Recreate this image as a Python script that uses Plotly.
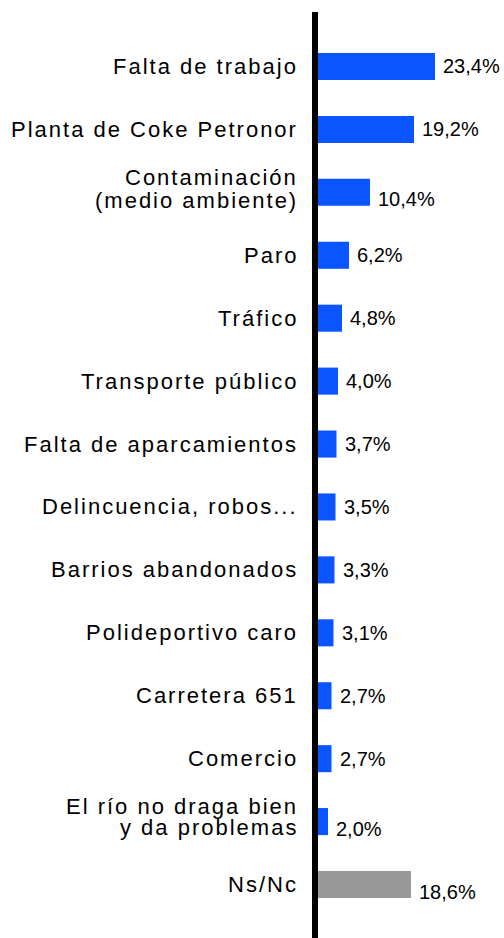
import plotly.graph_objects as go

categories = [
    "Falta de trabajo",
    "Planta de Coke Petronor",
    "Contaminación\n(medio ambiente)",
    "Paro",
    "Tráfico",
    "Transporte público",
    "Falta de aparcamientos",
    "Delincuencia, robos...",
    "Barrios abandonados",
    "Polideportivo caro",
    "Carretera 651",
    "Comercio",
    "El río no draga bien\ny da problemas",
    "Ns/Nc",
]
values = [23.4, 19.2, 10.4, 6.2, 4.8, 4.0, 3.7, 3.5, 3.3, 3.1, 2.7, 2.7, 2.0, 18.6]
value_labels = ["23,4%", "19,2%", "10,4%", "6,2%", "4,8%", "4,0%", "3,7%", "3,5%",
                "3,3%", "3,1%", "2,7%", "2,7%", "2,0%", "18,6%"]

BLUE = "#0A55FF"
GREY = "#999999"
colors = [BLUE] * (len(categories) - 1) + [GREY]
FONT = "Liberation Sans, Arial, sans-serif"

fig = go.Figure(go.Bar(
    x=values, y=categories, orientation="h",
    marker=dict(color=colors, line=dict(width=0)),
    width=0.43, hoverinfo="skip",
))

# category labels (one annotation per text line)
n_cat_ann = 0
for c in categories:
    lines = c.split("\n")
    shifts = [0] if len(lines) == 1 else ([15, -8] if c.startswith("Cont") else [15, -6])
    for ln, ys in zip(lines, shifts):
        fig.add_annotation(x=0, xref="paper", y=c, text=ln, showarrow=False,
                           xanchor="right", align="right", xshift=-18, yshift=ys,
                           font=dict(family=FONT, size=22, color="#000000"))
        n_cat_ann += 1

# value labels
val_yshift = {2: -7, 12: -7, 13: -7}
for i, (v, c, t) in enumerate(zip(values, categories, value_labels)):
    fig.add_annotation(x=v, y=c, text=t, showarrow=False, xanchor="left",
                       xshift=6, yshift=val_yshift.get(i, 0),
                       font=dict(family=FONT, size=20, color="#000000"))

fig.update_layout(
    width=504, height=938,
    margin=dict(l=318, r=0, t=12, b=0),
    paper_bgcolor="white", plot_bgcolor="white",
    showlegend=False,
    xaxis=dict(range=[0, 37.2], visible=False, showgrid=False, zeroline=False),
    yaxis=dict(
        type="category", range=[13.85, -0.866],
        showline=True, linecolor="black", linewidth=6,
        showgrid=False, zeroline=False, ticks="", showticklabels=False,
    ),
)

sel = ",".join('.annotation[data-index="%d"] text' % k for k in range(n_cat_ann))
post = """
var s=document.createElement('style');
s.innerHTML='body{margin:0;} %s{letter-spacing:2px;}';
document.head.appendChild(s);
""" % sel.replace("'", "\\'")
fig.write_html("out.html", post_script=post, config={"displayModeBar": False})
